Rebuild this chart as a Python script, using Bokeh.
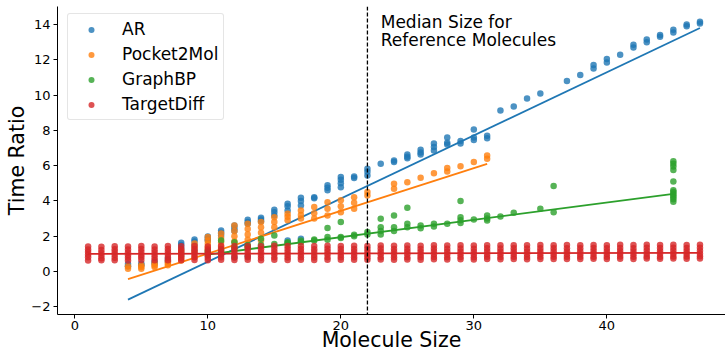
from bokeh.plotting import figure
from bokeh.models import Range1d, Span, Label, Legend, LegendItem, FixedTicker
from bokeh.embed import file_html
from bokeh.resources import INLINE

# ---------------- data ----------------
series_names = ["AR", "Pocket2Mol", "GraphBP", "TargetDiff"]
series_colors = ["#1f77b4", "#ff7f0e", "#2ca02c", "#d62728"]

ar_sizes = [4, 5, 6, 7, 8, 9, 10, 11, 12, 13, 14, 15, 16, 17, 18, 19, 20, 21, 22,
            23, 24, 25, 26, 27, 28, 29, 30, 31, 32, 33, 34, 35, 37, 38, 39, 40,
            41, 42, 43, 44, 45, 46, 47]
ar_ratios = [
    [0.42, 0.3], [0.45, 0.35], [0.55, 0.45], [0.7, 0.55],
    [1.63, 1.5, 1.3, 1.1, 0.9], [1.81, 1.7, 1.5, 1.2], [1.98, 1.85, 1.76, 0.9],
    [2.32, 2.2, 2.04, 1.0], [2.6, 2.45, 2.3, 0.8], [2.93, 2.8, 2.7, 0.85],
    [3.04, 2.95, 2.85], [3.5, 3.35, 3.17], [3.84, 3.7, 3.46, 1.76],
    [4.18, 4.0, 3.74, 1.85], [4.21, 4.15], [4.88, 4.75, 4.6],
    [5.35, 5.2, 5.0, 4.78], [5.39, 5.3], [5.82, 5.65, 5.44],
    [6.1], [6.29, 6.2], [6.63, 6.5, 6.42], [6.9, 6.75, 6.63],
    [7.25, 7.05, 6.86], [7.6, 7.3, 7.2], [7.4, 7.25], [8.05, 7.6, 7.45],
    [7.7, 7.55], [9.13], [9.35], [9.8], [10.09], [10.79], [11.13],
    [11.7, 11.5], [12.05, 11.85], [12.28], [12.85, 12.7], [13.15, 13.0],
    [13.4, 13.3], [13.7, 13.55], [14.0, 13.9], [14.15, 14.05],
]

p2m_sizes = [4, 5, 6, 7, 8, 9, 10, 11, 12, 13, 14, 15, 16, 17, 18, 19, 20, 21,
             22, 24, 25, 26, 27, 28, 29, 30, 31]
p2m_ratios = [
    [0.3, 0.15], [0.35, 0.25, 0.15], [0.45, 0.34, 0.25], [0.55, 0.44, 0.35],
    [1.19, 1.0, 0.8, 0.62], [1.59, 1.35, 1.1, 0.81], [1.95, 1.75, 1.57, 1.35, 1.19],
    [2.15, 1.9, 1.65, 1.38], [2.6, 2.3, 2.0, 1.7, 1.38], [2.7, 2.4, 2.1, 1.8, 1.38],
    [2.8, 2.5, 2.2, 1.76], [3.08, 2.8, 2.5], [3.27, 3.1, 2.9], [3.46, 3.2, 3.0],
    [3.65, 3.3, 3.0], [3.93, 3.55, 3.17], [4.03, 3.7, 3.36], [4.21, 3.9, 3.55],
    [4.5, 4.3], [4.97, 4.69], [5.06], [5.31], [5.57], [5.86, 5.67], [5.97],
    [6.2], [6.58, 6.39],
]

gbp_sizes = [10, 11, 12, 13, 14, 15, 16, 17, 18, 19, 20, 21, 22, 23, 24, 25, 26,
             27, 28, 29, 30, 31, 32, 33, 35, 36, 45]
gbp_ratios = [
    [1.0, 1.15], [1.76, 1.2], [1.66, 1.35], [1.5, 1.4], [1.85, 1.5],
    [2.04, 1.55], [1.66, 1.6], [1.76, 1.65], [1.81, 1.75], [2.46, 1.95, 1.8],
    [2.8, 1.95, 1.9], [2.08, 2.0], [2.23, 2.1], [2.99, 2.5, 2.3, 2.1],
    [3.17, 2.5, 2.3], [3.61, 2.7, 2.5], [2.6, 2.45], [2.7, 2.55], [2.7],
    [3.99, 3.08, 2.9, 2.75], [2.95], [3.17, 3.0, 2.89], [3.12], [3.33],
    [3.55], [4.84, 3.36],
    [6.25, 6.1, 5.95, 5.75, 5.1, 4.6, 4.5, 4.4, 4.3, 4.2, 4.1, 3.95],
]

td_sizes = list(range(1, 48))
td_ratios = [
    [1.42, 1.25, 1.1, 0.95, 0.8, 0.62], [1.4, 1.22, 1.05, 0.9, 0.75, 0.63],
    [1.43, 1.26, 1.1, 0.95, 0.78, 0.64], [1.41, 1.24, 1.08, 0.92, 0.78, 0.62],
    [1.44, 1.27, 1.1, 0.94, 0.8, 0.65], [1.42, 1.25, 1.09, 0.93, 0.77, 0.63],
    [1.45, 1.28, 1.12, 0.95, 0.79, 0.64], [1.43, 1.26, 1.1, 0.94, 0.78, 0.63],
    [1.44, 1.27, 1.11, 0.96, 0.8, 0.65], [1.42, 1.24, 1.08, 0.93, 0.78, 0.64],
    [1.46, 1.28, 1.12, 0.96, 0.8, 0.66], [1.44, 1.26, 1.1, 0.95, 0.79, 0.65],
    [1.45, 1.27, 1.11, 0.94, 0.8, 0.66], [1.43, 1.26, 1.09, 0.93, 0.78, 0.64],
    [1.46, 1.29, 1.12, 0.97, 0.81, 0.66], [1.44, 1.27, 1.1, 0.95, 0.79, 0.65],
    [1.45, 1.28, 1.12, 0.96, 0.8, 0.66], [1.44, 1.26, 1.1, 0.94, 0.79, 0.65],
    [1.46, 1.29, 1.13, 0.97, 0.81, 0.67], [1.45, 1.27, 1.11, 0.95, 0.8, 0.66],
    [1.46, 1.28, 1.12, 0.96, 0.8, 0.67], [1.45, 1.27, 1.1, 0.95, 0.8, 0.66],
    [1.47, 1.3, 1.13, 0.97, 0.81, 0.68], [1.46, 1.28, 1.12, 0.96, 0.8, 0.67],
    [1.47, 1.29, 1.13, 0.97, 0.81, 0.68], [1.46, 1.28, 1.11, 0.95, 0.8, 0.67],
    [1.48, 1.3, 1.14, 0.98, 0.82, 0.69], [1.47, 1.29, 1.12, 0.96, 0.81, 0.68],
    [1.48, 1.3, 1.13, 0.97, 0.82, 0.69], [1.47, 1.29, 1.12, 0.96, 0.81, 0.68],
    [1.49, 1.31, 1.14, 0.98, 0.83, 0.7], [1.48, 1.3, 1.13, 0.97, 0.82, 0.69],
    [1.49, 1.31, 1.15, 0.99, 0.83, 0.7], [1.48, 1.3, 1.13, 0.97, 0.82, 0.69],
    [1.5, 1.32, 1.15, 0.99, 0.84, 0.71], [1.49, 1.31, 1.14, 0.98, 0.83, 0.7],
    [1.5, 1.32, 1.15, 0.99, 0.84, 0.71], [1.49, 1.31, 1.14, 0.98, 0.83, 0.7],
    [1.5, 1.33, 1.16, 1.0, 0.84, 0.72], [1.49, 1.32, 1.15, 0.99, 0.83, 0.71],
    [1.51, 1.33, 1.16, 1.0, 0.85, 0.72], [1.5, 1.32, 1.15, 0.99, 0.84, 0.71],
    [1.51, 1.34, 1.17, 1.01, 0.85, 0.73], [1.5, 1.33, 1.16, 1.0, 0.84, 0.72],
    [1.51, 1.34, 1.17, 1.01, 0.85, 0.73], [1.5, 1.33, 1.16, 1.0, 0.85, 0.72],
    [1.51, 1.34, 1.17, 1.01, 0.86, 0.73],
]

# fitted regression lines (end points)
ar_fit_x, ar_fit_y = [4, 47], [-1.6, 13.8]
p2m_fit_x, p2m_fit_y = [4, 31], [-0.44, 6.1]
gbp_fit_x, gbp_fit_y = [10, 45], [0.96, 4.4]
td_fit_x, td_fit_y = [1, 47], [1.0, 1.05]

median_size = 22
x_ticks = [0, 10, 20, 30, 40]
y_ticks = [-2, 0, 2, 4, 6, 8, 10, 12, 14]
x_title = "Molecule Size"
y_title = "Time Ratio"

# ---------------- figure ----------------
FONT = "DejaVu Sans"
p = figure(width=725, height=354, output_backend="svg", toolbar_location=None,
           x_range=Range1d(-1.30, 48.92), y_range=Range1d(-2.44, 15.02),
           min_border_left=57, min_border_right=0, min_border_top=6,
           min_border_bottom=40)
p.outline_line_color = None
p.grid.grid_line_color = None
p.background_fill_color = "white"
p.border_fill_color = "white"

groups = [
    (ar_sizes, ar_ratios, ar_fit_x, ar_fit_y),
    (p2m_sizes, p2m_ratios, p2m_fit_x, p2m_fit_y),
    (gbp_sizes, gbp_ratios, gbp_fit_x, gbp_fit_y),
    (td_sizes, td_ratios, td_fit_x, td_fit_y),
]
items = []
for name, color, (sizes, ratios, fx, fy) in zip(series_names, series_colors, groups):
    xs, ys = [], []
    for s, vals in zip(sizes, ratios):
        for v in vals:
            xs.append(s)
            ys.append(v)
    r = p.scatter(xs, ys, size=6.5, fill_color=color, fill_alpha=0.8,
                  line_color=None)
    p.line(fx, fy, line_color=color, line_width=1.8)
    items.append(LegendItem(label=name, renderers=[r]))

p.add_layout(Span(location=median_size, dimension="height", line_color="black",
                  line_dash="4 2", line_width=1.3))
for txt, yy in [("Median Size for", 14.13), ("Reference Molecules", 13.1)]:
    p.add_layout(Label(x=23, y=yy, text=txt, text_font=FONT,
                       text_font_size="17px", text_color="black",
                       text_baseline="alphabetic"))

legend = Legend(items=items, location=(10, 194))
legend.label_text_font = FONT
legend.label_text_font_size = "17px"
legend.label_text_color = "black"
legend.glyph_width = 36
legend.glyph_height = 15
legend.label_height = 20
legend.spacing = 5
legend.padding = 5
legend.label_standoff = 13
legend.margin = 0
legend.border_line_color = "#cccccc"
legend.border_line_width = 1
legend.background_fill_alpha = 0.8
if "border_radius" in Legend.properties():
    legend.border_radius = 3
p.add_layout(legend)

# axes
p.xaxis.ticker = FixedTicker(ticks=x_ticks)
p.yaxis.ticker = FixedTicker(ticks=y_ticks)
p.yaxis.major_label_overrides = {-2: "\u22122"}
p.xaxis.axis_label = x_title
p.yaxis.axis_label = y_title
for ax in (p.xaxis[0], p.yaxis[0]):
    ax.axis_label_text_font = FONT
    ax.axis_label_text_font_size = "20.5px"
    ax.axis_label_text_font_style = "normal"
    ax.axis_label_text_color = "black"
    ax.major_label_text_font = FONT
    ax.major_label_text_font_size = "13px"
    ax.major_label_text_color = "black"
    ax.axis_line_color = "black"
    ax.major_tick_line_color = "black"
    ax.major_tick_out = 4
    ax.major_tick_in = 0
    ax.minor_tick_line_color = None
p.xaxis.major_label_standoff = 2
p.xaxis.axis_label_standoff = -5
p.yaxis.major_label_standoff = 3
p.yaxis.axis_label_standoff = -1

open("out.html", "w").write(file_html(p, INLINE))
